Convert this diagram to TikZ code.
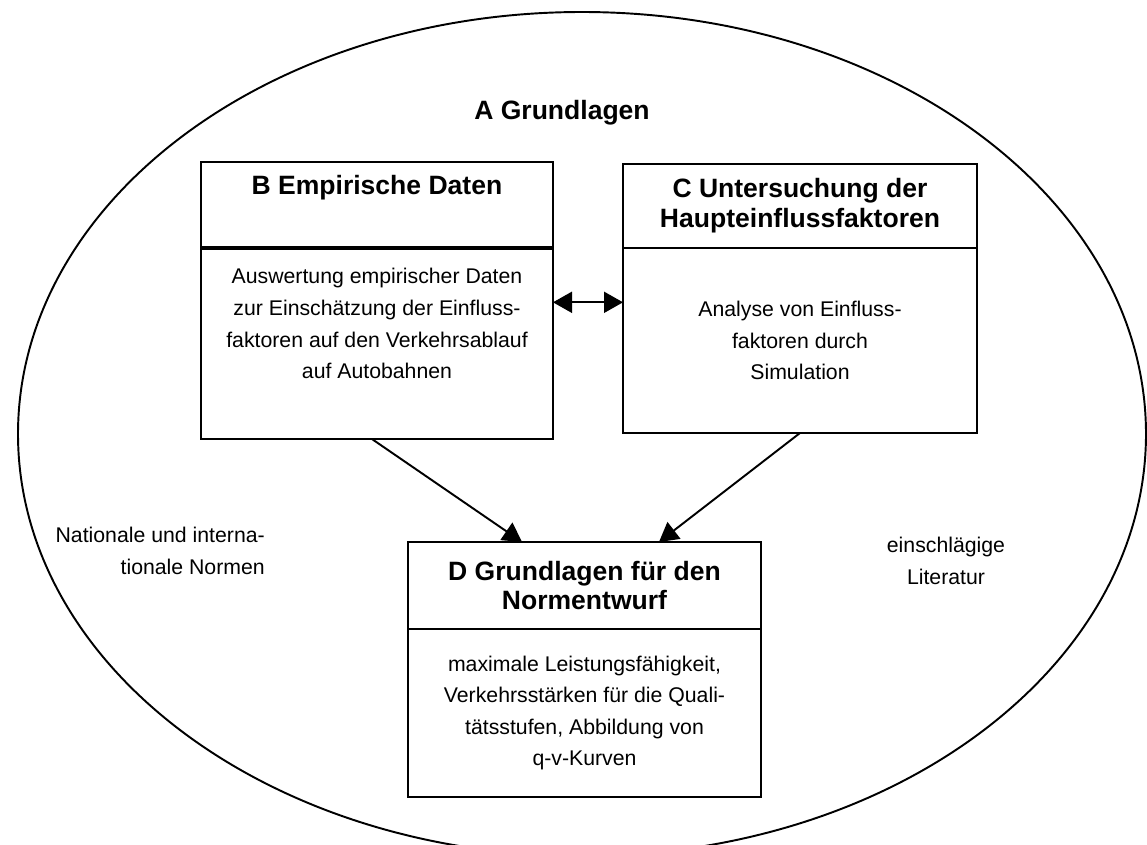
\documentclass[tikz,border=0pt]{standalone}
\usepackage{fontspec}
\setmainfont{Liberation Sans}
\usetikzlibrary{arrows.meta, positioning, calc}
\def\px{0.02cm}

\tikzset{
  headbox/.style={draw, line width=1.1pt, inner sep=0pt, outer sep=0pt, align=center,
                  font=\fontsize{15.1}{17}\selectfont\bfseries},
  bodybox/.style={draw, line width=1.1pt, inner sep=0pt, outer sep=0pt, align=center,
                  font=\fontsize{12.1}{18}\selectfont},
  sidetext/.style={font=\fontsize{12.1}{18}\selectfont},
  link/.style={line width=1.1pt, ->},
  twoway/.style={line width=1.1pt, <->},
}

\begin{document}
\begin{tikzpicture}[x=0.02cm, y=-0.02cm, >={Triangle[length=0.38cm, width=0.42cm]}]
  \useasboundingbox (0,0) rectangle (1147,845);
  \clip (0,0) rectangle (1147,845);

  % Outer frame
  \draw[line width=1.1pt] (582,434) ellipse [x radius=564, y radius=422];
  \node[anchor=base, font=\fontsize{15.1}{17}\selectfont\bfseries] (grund) at (562,119) {A Grundlagen};

  % B
  \node[headbox, minimum width=352*\px, minimum height=85*\px] (bhead) at (377,204.5)
    {B Empirische Daten\\\strut};
  \node[bodybox, minimum width=352*\px, minimum height=190*\px, below=1.2pt of bhead] (bbody)
    {Auswertung empirischer Daten\\zur Einschätzung der Einfluss-\\faktoren auf den Verkehrsablauf\\auf Autobahnen\\\strut};

  % C
  \node[headbox, minimum width=354*\px, minimum height=84*\px] (chead) at (800,206)
    {C Untersuchung der\\Haupteinflussfaktoren};
  \node[bodybox, minimum width=354*\px, minimum height=185*\px, below=0pt of chead] (cbody)
    {Analyse von Einfluss-\\faktoren durch\\Simulation};

  % D
  \node[headbox, minimum width=353*\px, minimum height=87*\px] (dhead) at (584.5,585.5)
    {D Grundlagen für den\\Normentwurf};
  \node[bodybox, minimum width=353*\px, minimum height=168*\px, below=0pt of dhead] (dbody)
    {maximale Leistungsfähigkeit,\\Verkehrsstärken für die Quali-\\tätsstufen, Abbildung von\\q-v-Kurven};

  % Side notes
  \node[sidetext, align=right, anchor=base east] (normen) at (271,574) {Nationale und interna-\\tionale Normen};
  \node[sidetext, align=center, anchor=base] (lit) at (946,584) {einschlägige\\Literatur};

  % Arrows
  \coordinate (bc) at ($(bbody.north east)!0.28!(bbody.south east)$);
  \draw[twoway] (bc) -- (bc -| cbody.west);
  \draw[link] ($(bbody.south west)!0.486!(bbody.south east)$) -- ($(dhead.north west)!0.323!(dhead.north east)$);
  \draw[link] (cbody.south) -- ($(dhead.north west)!0.711!(dhead.north east)$);
\end{tikzpicture}
\end{document}
